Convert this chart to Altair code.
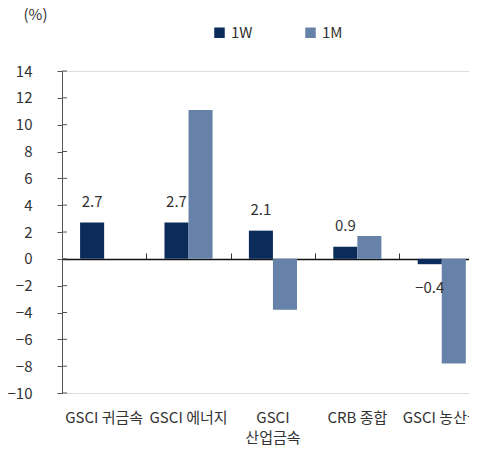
import altair as alt
import pandas as pd

categories = ["GSCI 귀금속", "GSCI 에너지", "GSCI\n산업금속", "CRB 종합", "GSCI 농산물"]
series = ["1W", "1M"]
w1 = [2.7, 2.7, 2.1, 0.9, -0.4]
m1 = [None, 11.1, -3.8, 1.7, -7.8]
colors = ["#0B2C5A", "#6682A9"]
y_ticks = list(range(-10, 15, 2))

rows = []
for c, a, b in zip(categories, w1, m1):
    rows.append({"cat": c, "series": "1W", "value": a})
    if b is not None:
        rows.append({"cat": c, "series": "1M", "value": b})
df = pd.DataFrame(rows)
tick_df = pd.DataFrame({"value": y_ticks})

FONT = "Noto Sans CJK KR"
TXT = "#333333"
W, H = 407, 322

# step ~84.4px; the last category runs past the right edge (clipped as in the original)
x_scale = alt.Scale(domain=categories, paddingInner=0.43, paddingOuter=0.126, align=0.85)
y_scale = alt.Scale(domain=[-10, 14], nice=False, zero=False)
off_scale = alt.Scale(domain=series, paddingInner=0, paddingOuter=0)
color_scale = alt.Scale(domain=series, range=colors)

x_axis = alt.Axis(orient="bottom", title=None, domain=False, ticks=False,
                  labelAngle=0, labelFontSize=15, labelColor=TXT, labelFont=FONT,
                  labelPadding=17, labelLineHeight=20, labelBaseline="top",
                  labelExpr="split(datum.label, '\\n')", labelLimit=200)
y_axis = alt.Axis(orient="left", values=y_ticks, title="(%)", titleAngle=0,
                  titleAlign="left", titleBaseline="alphabetic", titleX=-39, titleY=-52,
                  titleFontSize=15, titleFontWeight="normal", titleColor=TXT, titleFont=FONT,
                  labelFontSize=15, labelColor=TXT, labelFont=FONT, labelPadding=25,
                  domainColor="#555555", tickColor="#555555", tickSize=5, grid=False)

base = alt.Chart(df)

bars = base.mark_bar().encode(
    x=alt.X("cat:N", scale=x_scale, sort=categories, axis=x_axis),
    xOffset=alt.XOffset("series:N", scale=off_scale, sort=series),
    y=alt.Y("value:Q", scale=y_scale, axis=y_axis),
    color=alt.Color("series:N", scale=color_scale, sort=series,
                    legend=alt.Legend(orient="none", legendX=150, legendY=-46, direction="horizontal",
                                      title=None, symbolType="square", symbolSize=110,
                                      symbolStrokeWidth=0, labelFontSize=15, labelColor=TXT,
                                      labelFont=FONT, columnPadding=50, labelOffset=4)),
)

# zero line with category-boundary ticks pointing up
zero_axis = base.mark_point(opacity=0).encode(
    x=alt.X("cat:N", scale=x_scale, sort=categories,
            axis=alt.Axis(orient="top", offset=-188, labels=False, title=None,
                          domainColor="#111111", domainWidth=1.3, tickColor="#333333",
                          tickSize=6, bandPosition=1, tickOffset=18, tickExtra=False)),
)

# inward half of the y-axis ticks
inner_ticks = alt.Chart(tick_df).mark_rule(color="#555555", strokeWidth=1).encode(
    y=alt.Y("value:Q", scale=y_scale, axis=y_axis),
    x=alt.value(0),
    x2=alt.value(5),
)

labels = base.transform_filter("datum.series == '1W'").transform_calculate(
    ypos="datum.value >= 0 ? datum.value + 1.57 : datum.value - 1.76"
).mark_text(fontSize=15, color=TXT, font=FONT, baseline="middle").encode(
    x=alt.X("cat:N", scale=x_scale, sort=categories, axis=None),
    xOffset=alt.XOffset("series:N", scale=off_scale, sort=series),
    y=alt.Y("ypos:Q", scale=y_scale, axis=y_axis),
    text=alt.Text("value:Q", format=".1f"),
)

chart = alt.layer(bars, zero_axis, inner_ticks, labels).properties(
    width=W, height=H,
    autosize=alt.AutoSizeParams(type="none"),
    padding={"left": 54, "top": 63, "right": 0, "bottom": 52},
).configure_view(stroke=None).configure(background="white", font=FONT)

chart.save("out.html", embed_options={"renderer": "svg", "actions": False})
